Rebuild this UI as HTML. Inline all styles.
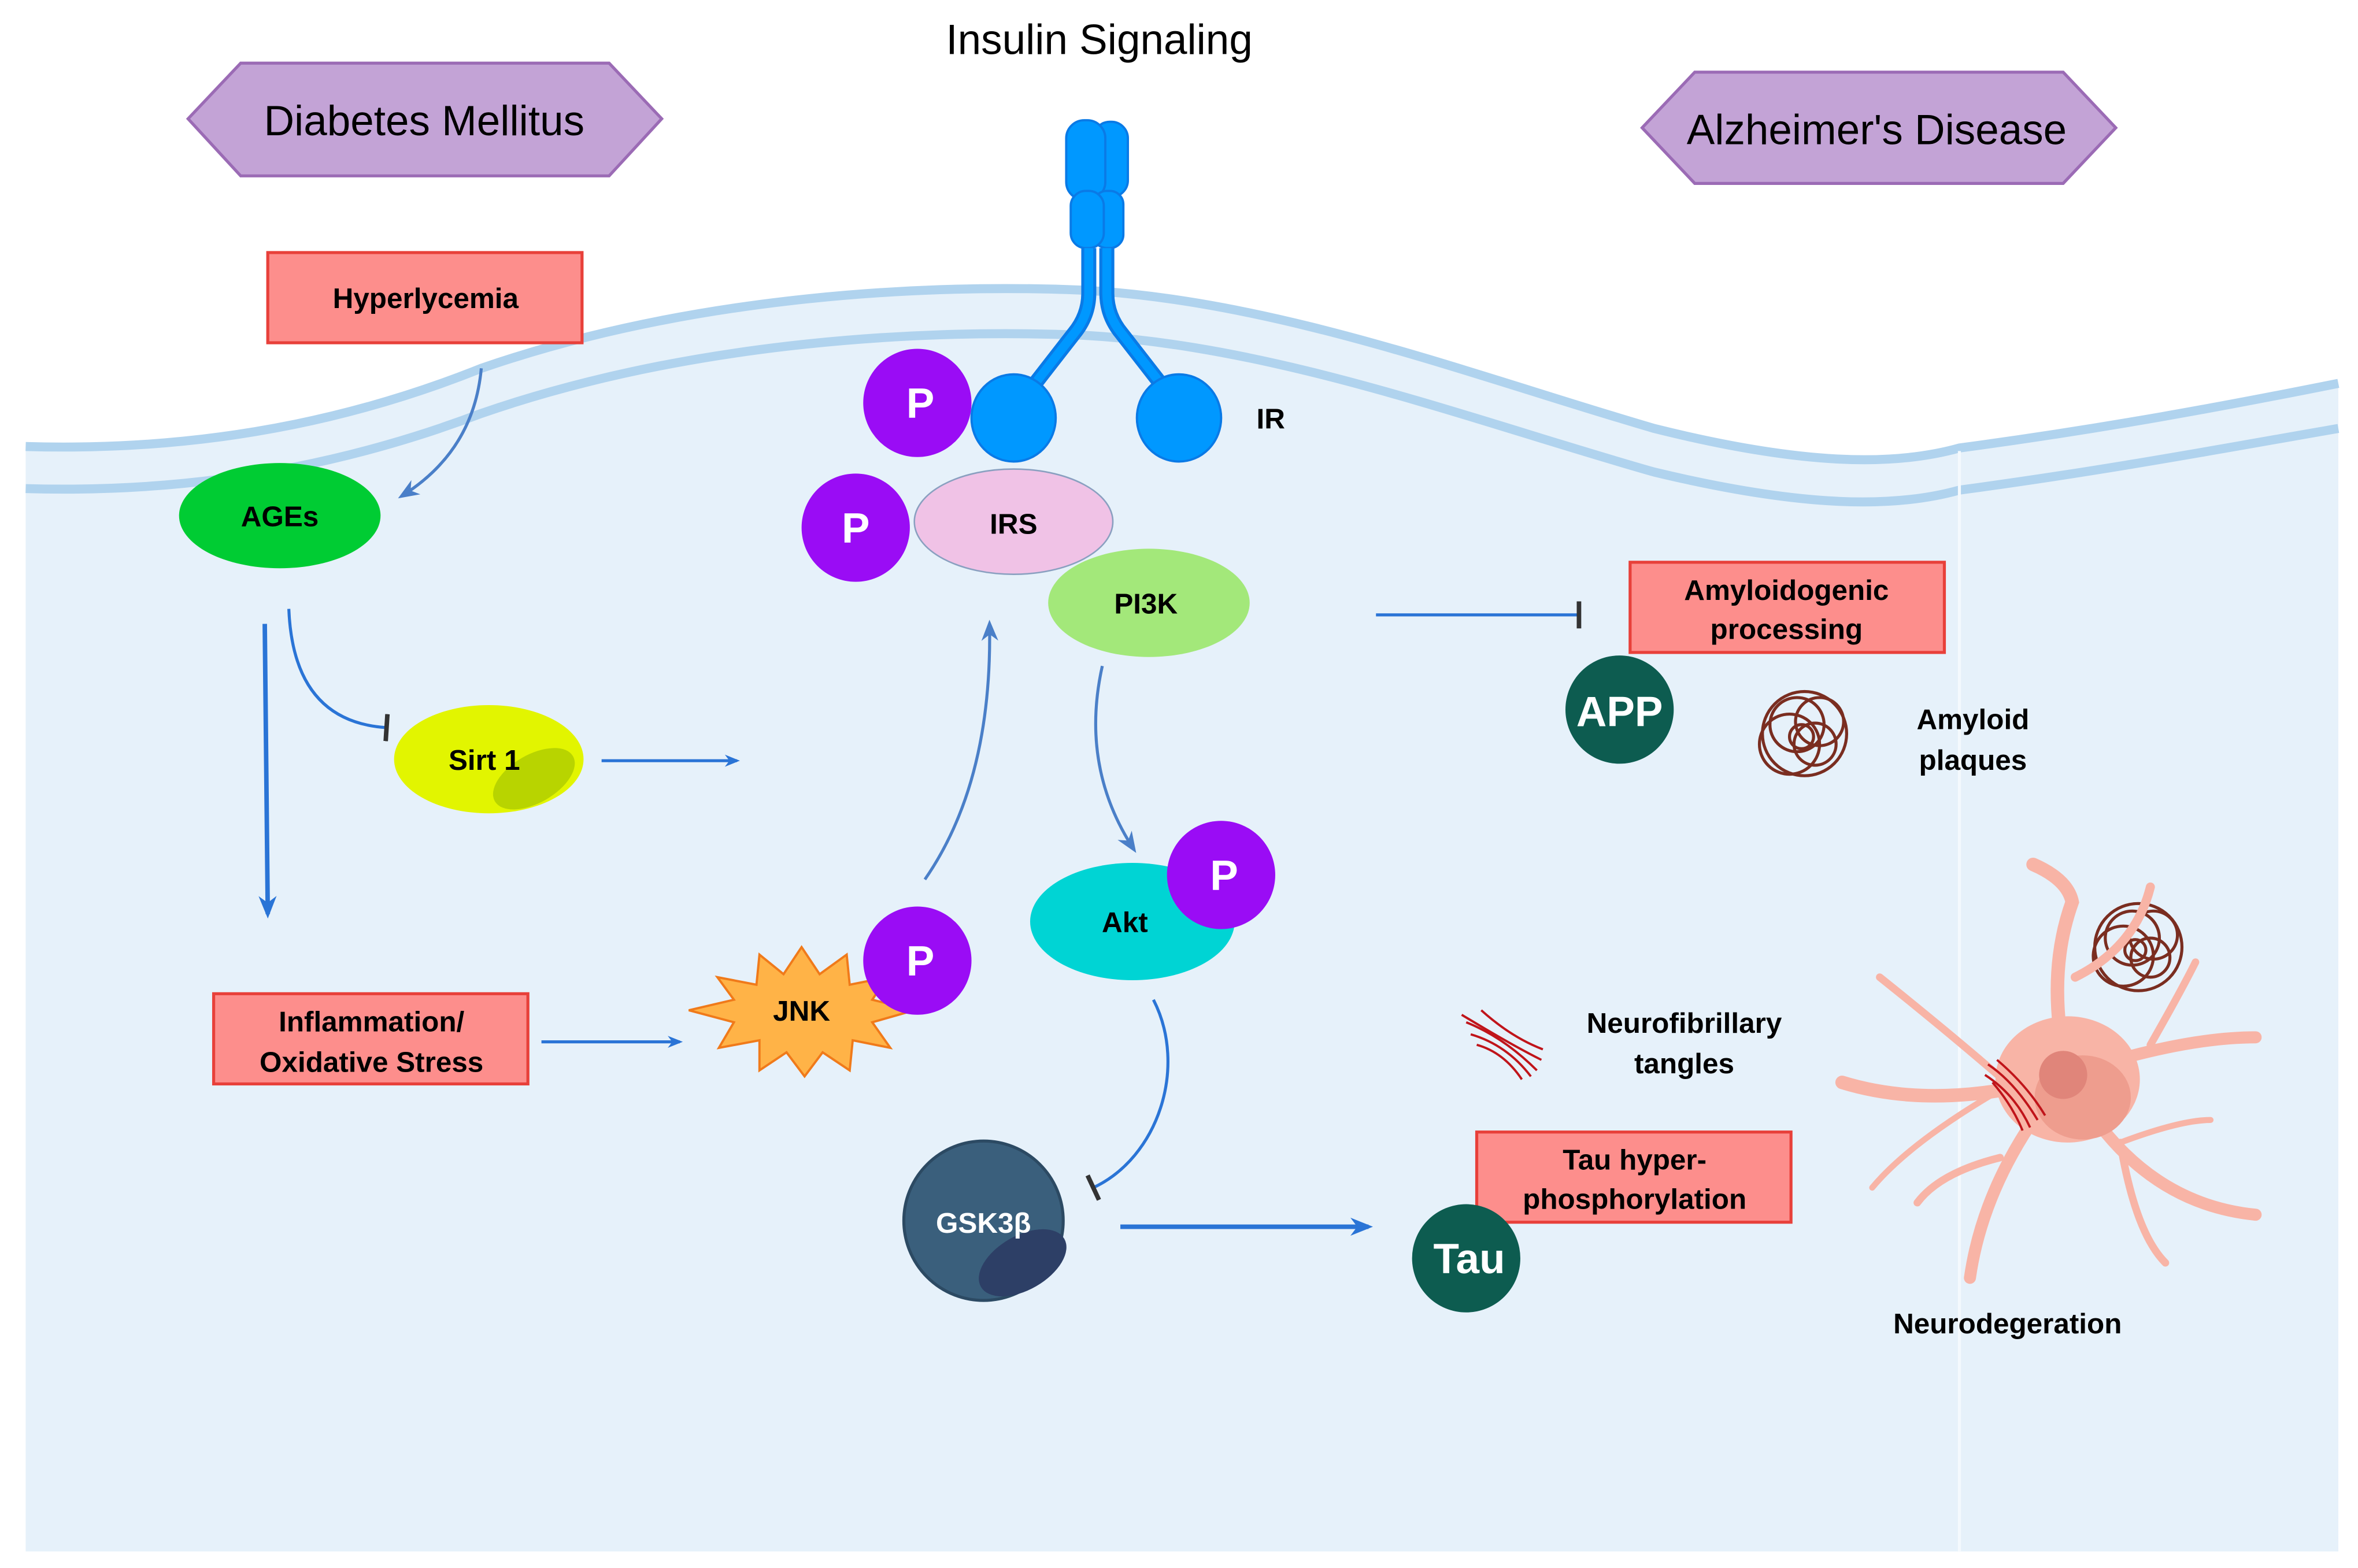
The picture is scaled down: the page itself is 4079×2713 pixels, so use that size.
<!DOCTYPE html>
<html><head><meta charset="utf-8"><style>
html,body{margin:0;padding:0;background:#fff;}
svg{display:block;}
text{font-family:"Liberation Sans",Arial,sans-serif;}
</style></head><body>
<svg width="4079" height="2713" viewBox="0 0 1568 1043" xmlns="http://www.w3.org/2000/svg">
<defs>
<marker id="ah" viewBox="0 0 10 10" refX="8" refY="5" markerWidth="5" markerHeight="5" orient="auto"><path d="M0,1 L10,5 L0,9 L3,5 Z" fill="#2a74d6"/></marker>
<marker id="ah2" viewBox="0 0 10 10" refX="8" refY="5" markerWidth="7" markerHeight="7" orient="auto"><path d="M0,1 L10,5 L0,9 L3,5 Z" fill="#4a7fc8"/></marker>
<marker id="tb" viewBox="0 0 4 12" refX="2" refY="6" markerWidth="3" markerHeight="9" orient="auto"><rect x="1" y="0" width="2" height="12" fill="#333"/></marker>
</defs>
<rect width="1568" height="1043" fill="#fff"/>
<!-- cell -->
<path d="M17,297 C120,300 220,285 320,245 C450,200 600,188 720,193 C850,200 980,250 1100,285 C1200,310 1260,310 1303,298 C1400,285 1480,270 1555,255 L1555,1032 L17,1032 Z" fill="#e6f1fa"/>
<path d="M17,297 C120,300 220,285 320,245 C450,200 600,188 720,193 C850,200 980,250 1100,285 C1200,310 1260,310 1303,298 C1400,285 1480,270 1555,255" fill="none" stroke="#b0d3ee" stroke-width="6"/>
<path d="M17,325 C120,328 220,313 320,275 C450,230 600,218 720,223 C850,230 980,280 1100,314 C1200,338 1260,338 1303,326 C1400,313 1480,298 1555,285" fill="none" stroke="#b0d3ee" stroke-width="6"/>
<line x1="1303" y1="300" x2="1303" y2="1032" stroke="#f4f9fd" stroke-width="2"/>

<text x="731" y="36" font-size="28" text-anchor="middle">Insulin Signaling</text>
<polygon points="125,79 160,42 405,42 440,79 405,117 160,117" fill="#c3a3d6" stroke="#9b6bb5" stroke-width="2"/>
<text x="282" y="90" font-size="28" text-anchor="middle">Diabetes Mellitus</text>
<polygon points="1092,85 1127,48 1372,48 1407,85 1372,122 1127,122" fill="#c3a3d6" stroke="#9b6bb5" stroke-width="2"/>
<text x="1248" y="96" font-size="28" text-anchor="middle">Alzheimer's Disease</text>

<!-- receptor -->
<g fill="#0098ff" stroke="#0a7ae6" stroke-width="1.5">
<rect x="727" y="81" width="23" height="50" rx="11"/>
<rect x="709" y="80" width="26" height="53" rx="12"/>
<rect x="727" y="127" width="20" height="38" rx="9"/>
<rect x="712" y="127" width="22" height="38" rx="10"/>
</g>
<path d="M724,165 L724,195 Q724,210 714,222 L686,258" fill="none" stroke="#0a7ae6" stroke-width="10"/>
<path d="M736,165 L736,195 Q736,210 746,222 L774,258" fill="none" stroke="#0a7ae6" stroke-width="10"/>
<path d="M724,165 L724,195 Q724,210 714,222 L686,258" fill="none" stroke="#0098ff" stroke-width="6"/>
<path d="M736,165 L736,195 Q736,210 746,222 L774,258" fill="none" stroke="#0098ff" stroke-width="6"/>
<ellipse cx="674" cy="278" rx="28" ry="29" fill="#0098ff" stroke="#0a7ae6" stroke-width="1.5"/>
<ellipse cx="784" cy="278" rx="28" ry="29" fill="#0098ff" stroke="#0a7ae6" stroke-width="1.5"/>
<text x="845" y="285" font-size="19" font-weight="bold" text-anchor="middle">IR</text>

<!-- red boxes -->
<g fill="#fd8e8c" stroke="#e8403a" stroke-width="2">
<rect x="178" y="168" width="209" height="60"/>
<rect x="1084" y="374" width="209" height="60"/>
<rect x="142" y="661" width="209" height="60"/>
<rect x="982" y="753" width="209" height="60"/>
</g>
<g font-size="19" font-weight="bold" text-anchor="middle">
<text x="283" y="205">Hyperlycemia</text>
<text x="1188" y="399">Amyloidogenic</text>
<text x="1188" y="425">processing</text>
<text x="247" y="686">Inflammation/</text>
<text x="247" y="713">Oxidative Stress</text>
<text x="1087" y="778">Tau hyper-</text>
<text x="1087" y="804">phosphorylation</text>
</g>

<!-- ellipses -->
<ellipse cx="186" cy="343" rx="67" ry="35" fill="#00cc33"/>
<text x="186" y="350" font-size="19" font-weight="bold" text-anchor="middle">AGEs</text>
<ellipse cx="325" cy="505" rx="63" ry="36" fill="#e2f500"/>
<ellipse cx="355" cy="518" rx="30" ry="16" fill="#b8d400" transform="rotate(-30 355 518)"/>
<text x="322" y="512" font-size="19" font-weight="bold" text-anchor="middle">Sirt 1</text>
<ellipse cx="674" cy="347" rx="66" ry="35" fill="#f0c2e6" stroke="#8aa0c0" stroke-width="1"/>
<text x="674" y="355" font-size="19" font-weight="bold" text-anchor="middle">IRS</text>
<ellipse cx="764" cy="401" rx="67" ry="36" fill="#a3e87a"/>
<text x="762" y="408" font-size="19" font-weight="bold" text-anchor="middle">PI3K</text>
<ellipse cx="753" cy="613" rx="68" ry="39" fill="#00d4d4"/>
<text x="748" y="620" font-size="19" font-weight="bold" text-anchor="middle">Akt</text>

<!-- JNK star -->
<polygon points="533,630 545,648 563,635 565,655 590,650 580,665 608,672 580,680 592,697 567,692 565,712 547,700 535,716 523,700 505,712 505,692 478,697 488,680 458,672 488,665 477,650 503,655 505,635 521,648" fill="#ffb347" stroke="#f07a1a" stroke-width="1.5"/>
<text x="533" y="679" font-size="19" font-weight="bold" text-anchor="middle">JNK</text>

<!-- P circles -->
<g>
<circle cx="610" cy="268" r="36" fill="#9a0cf5"/>
<circle cx="569" cy="351" r="36" fill="#9a0cf5"/>
<circle cx="812" cy="582" r="36" fill="#9a0cf5"/>
<circle cx="610" cy="639" r="36" fill="#9a0cf5"/>
</g>
<g font-size="28" font-weight="bold" fill="#fff" text-anchor="middle">
<text x="612" y="278">P</text>
<text x="569" y="361">P</text>
<text x="814" y="592">P</text>
<text x="612" y="649">P</text>
</g>

<!-- GSK3b -->
<circle cx="654" cy="812" r="53" fill="#3a5f7c" stroke="#2c4a63" stroke-width="2"/>
<ellipse cx="680" cy="840" rx="32" ry="18" fill="#2d3f66" transform="rotate(-30 680 840)"/>
<text x="654" y="820" font-size="19" font-weight="bold" fill="#fff" text-anchor="middle">GSK3β</text>

<circle cx="1077" cy="472" r="36" fill="#0d5c50"/>
<text x="1077" y="483" font-size="28" font-weight="bold" fill="#fff" text-anchor="middle">APP</text>
<circle cx="975" cy="837" r="36" fill="#0d5c50"/>
<text x="977" y="847" font-size="28" font-weight="bold" fill="#fff" text-anchor="middle">Tau</text>

<!-- plaques -->
<g fill="none" stroke="#7a2d20" stroke-width="2">
<circle cx="1200" cy="488" r="28"/><circle cx="1195" cy="482" r="18"/><circle cx="1207" cy="495" r="14"/><circle cx="1198" cy="490" r="8"/>
<circle cx="1190" cy="495" r="20"/><circle cx="1210" cy="480" r="16"/>
<circle cx="1422" cy="630" r="29"/><circle cx="1418" cy="624" r="18"/><circle cx="1430" cy="637" r="13"/><circle cx="1420" cy="632" r="7"/>
<circle cx="1412" cy="636" r="20"/><circle cx="1432" cy="622" r="16"/>
</g>
<text x="1312" y="485" font-size="19" font-weight="bold" text-anchor="middle">Amyloid</text>
<text x="1312" y="512" font-size="19" font-weight="bold" text-anchor="middle">plaques</text>

<!-- tangles -->
<g fill="none" stroke="#c0141a" stroke-width="1.5">
<path d="M975,680 Q1000,690 1022,712"/><path d="M978,688 Q1002,695 1018,716"/><path d="M972,675 Q1005,695 1025,705"/><path d="M982,695 Q1000,700 1012,718"/><path d="M985,672 Q1005,690 1026,698"/>
</g>
<text x="1120" y="687" font-size="19" font-weight="bold" text-anchor="middle">Neurofibrillary</text>
<text x="1120" y="714" font-size="19" font-weight="bold" text-anchor="middle">tangles</text>

<!-- neuron -->
<g fill="none" stroke="#f8b4a6" stroke-linecap="round">
<path d="M1375,715 Q1360,650 1378,600 Q1375,585 1352,575" stroke-width="9"/>
<path d="M1380,650 Q1420,630 1430,590" stroke-width="6"/>
<path d="M1375,715 Q1290,740 1225,720" stroke-width="9"/>
<path d="M1340,725 Q1300,690 1250,650" stroke-width="5"/>
<path d="M1375,715 Q1450,690 1500,690" stroke-width="8"/>
<path d="M1430,695 Q1450,660 1460,640" stroke-width="5"/>
<path d="M1375,715 Q1320,780 1310,850" stroke-width="8"/>
<path d="M1330,770 Q1290,780 1275,800" stroke-width="5"/>
<path d="M1375,715 Q1420,800 1500,808" stroke-width="8"/>
<path d="M1410,760 Q1420,820 1440,840" stroke-width="5"/>
<path d="M1410,760 Q1450,745 1470,745" stroke-width="4"/>
<path d="M1330,725 Q1270,760 1245,790" stroke-width="4"/>
</g>
<ellipse cx="1375" cy="718" rx="48" ry="42" fill="#f8b4a6"/>
<ellipse cx="1385" cy="730" rx="32" ry="28" fill="#ee9d8e"/>
<circle cx="1372" cy="715" r="16" fill="#e0857a"/>
<g fill="none" stroke="#c0141a" stroke-width="1.5">
<path d="M1322,708 Q1340,720 1355,745"/><path d="M1320,715 Q1340,728 1350,750"/><path d="M1328,705 Q1348,722 1360,742"/><path d="M1325,720 Q1338,735 1345,752"/>
</g>
<text x="1335" y="887" font-size="19" font-weight="bold" text-anchor="middle">Neurodegeration</text>

<!-- arrows -->
<g fill="none" stroke-width="2">
<path d="M320,245 Q315,300 267,330" stroke="#4a7fc8" marker-end="url(#ah2)"/>
<path d="M176,415 L178,608" stroke="#2a74d6" stroke-width="3" marker-end="url(#ah)"/>
<path d="M192,405 Q195,480 257,484" stroke="#2a74d6" marker-end="url(#tb)"/>
<path d="M400,506 L490,506" stroke="#2a74d6" marker-end="url(#ah)"/>
<path d="M360,693 L452,693" stroke="#2a74d6" marker-end="url(#ah)"/>
<path d="M615,585 Q660,520 658,415" stroke="#4a7fc8" marker-end="url(#ah2)"/>
<path d="M733,443 Q718,510 754,565" stroke="#4a7fc8" marker-end="url(#ah2)"/>
<path d="M915,409 L1050,409" stroke="#2a74d6" marker-end="url(#tb)"/>
<path d="M767,665 C790,710 770,770 727,790" stroke="#2a74d6" marker-end="url(#tb)"/>
<path d="M745,816 L910,816" stroke="#2a74d6" stroke-width="3" marker-end="url(#ah)"/>
</g>
</svg>
</body></html>
